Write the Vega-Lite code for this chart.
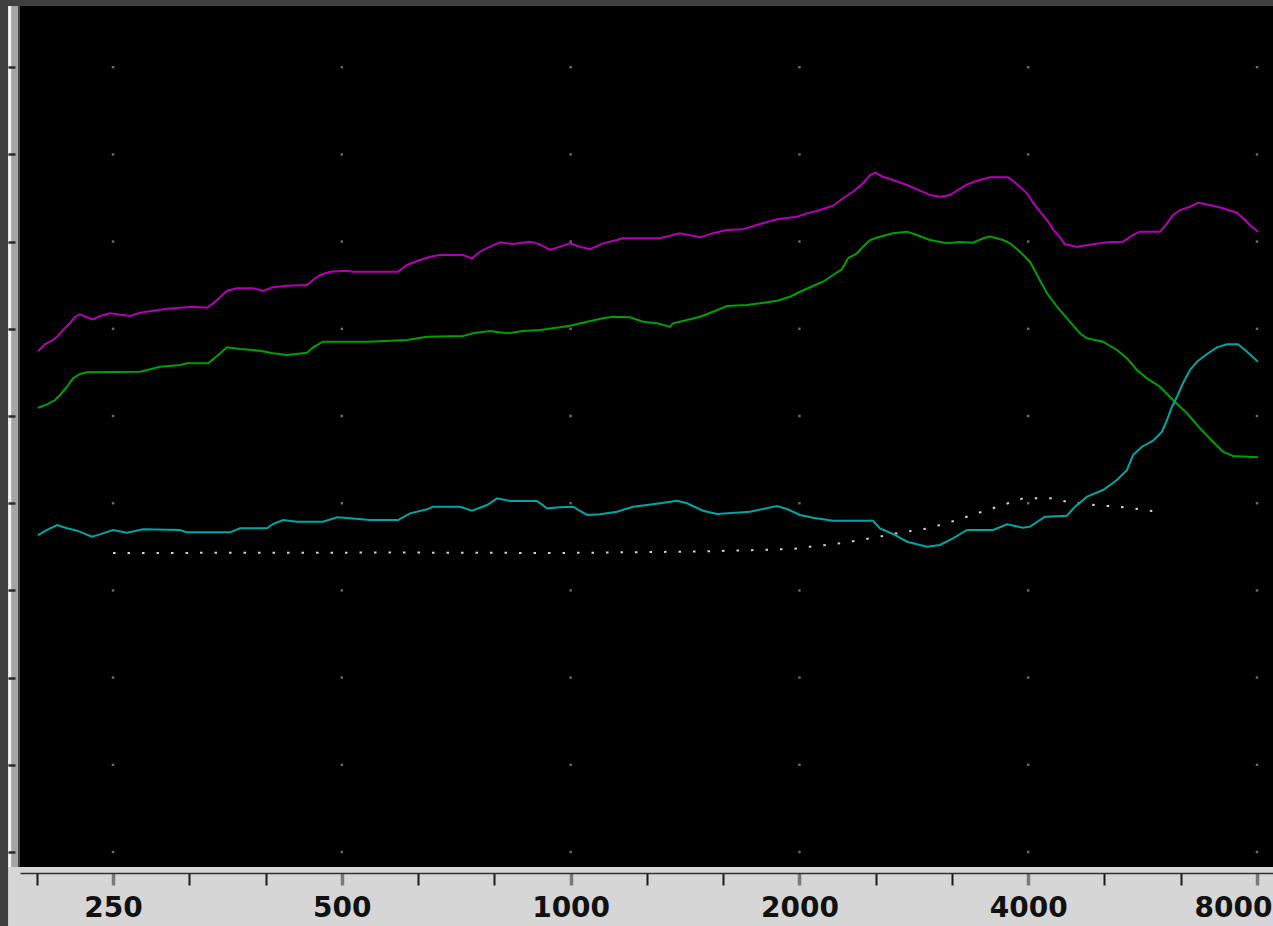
{
"$schema": "https://vega.github.io/schema/vega-lite/v6.json",
"width": 1253, "height": 861,
"autosize": {"type": "none"},
"padding": {"left": 20, "top": 6, "right": 0, "bottom": 59},
"background": "#404040",
"config": {"view": {"fill": "#000000", "stroke": null}},
"datasets": {
"grid": [
{"freq":250,"level":0},{"freq":500,"level":0},{"freq":1000,"level":0},{"freq":2000,"level":0},{"freq":4000,"level":0},{"freq":8000,"level":0},
{"freq":250,"level":10},{"freq":500,"level":10},{"freq":1000,"level":10},{"freq":2000,"level":10},{"freq":4000,"level":10},{"freq":8000,"level":10},
{"freq":250,"level":20},{"freq":500,"level":20},{"freq":1000,"level":20},{"freq":2000,"level":20},{"freq":4000,"level":20},{"freq":8000,"level":20},
{"freq":250,"level":30},{"freq":500,"level":30},{"freq":1000,"level":30},{"freq":2000,"level":30},{"freq":4000,"level":30},{"freq":8000,"level":30},
{"freq":250,"level":40},{"freq":500,"level":40},{"freq":1000,"level":40},{"freq":2000,"level":40},{"freq":4000,"level":40},{"freq":8000,"level":40},
{"freq":250,"level":50},{"freq":500,"level":50},{"freq":1000,"level":50},{"freq":2000,"level":50},{"freq":4000,"level":50},{"freq":8000,"level":50},
{"freq":250,"level":60},{"freq":500,"level":60},{"freq":1000,"level":60},{"freq":2000,"level":60},{"freq":4000,"level":60},{"freq":8000,"level":60},
{"freq":250,"level":70},{"freq":500,"level":70},{"freq":1000,"level":70},{"freq":2000,"level":70},{"freq":4000,"level":70},{"freq":8000,"level":70},
{"freq":250,"level":80},{"freq":500,"level":80},{"freq":1000,"level":80},{"freq":2000,"level":80},{"freq":4000,"level":80},{"freq":8000,"level":80},
{"freq":250,"level":90},{"freq":500,"level":90},{"freq":1000,"level":90},{"freq":2000,"level":90},{"freq":4000,"level":90},{"freq":8000,"level":90}
],
"curves": [
{"series":"upper","freq":199.2,"level":57.45},{"series":"upper","freq":203.5,"level":58.26},{"series":"upper","freq":207.8,"level":58.64},{"series":"upper","freq":211.6,"level":59.21},{"series":"upper","freq":214.9,"level":59.86},{"series":"upper","freq":219.5,"level":60.67},{"series":"upper","freq":222.8,"level":61.39},{"series":"upper","freq":226.2,"level":61.66},{"series":"upper","freq":231.1,"level":61.32},{"series":"upper","freq":235.3,"level":61.09},{"series":"upper","freq":240.3,"level":61.47},{"series":"upper","freq":247.7,"level":61.78},{"series":"upper","freq":263.2,"level":61.47},{"series":"upper","freq":271.3,"level":61.85},{"series":"upper","freq":282.2,"level":62.08},{"series":"upper","freq":294.4,"level":62.31},{"series":"upper","freq":306.3,"level":62.42},{"series":"upper","freq":318.6,"level":62.53},{"series":"upper","freq":332.4,"level":62.42},{"series":"upper","freq":338.5,"level":62.92},{"series":"upper","freq":345.7,"level":63.61},{"series":"upper","freq":353.1,"level":64.37},{"series":"upper","freq":364.0,"level":64.64},{"series":"upper","freq":382.1,"level":64.64},{"series":"upper","freq":393.8,"level":64.37},{"series":"upper","freq":405.9,"level":64.76},{"series":"upper","freq":423.5,"level":64.94},{"series":"upper","freq":450.0,"level":65.02},{"series":"upper","freq":458.2,"level":65.60},{"series":"upper","freq":468.1,"level":66.17},{"series":"upper","freq":482.5,"level":66.55},{"series":"upper","freq":508.0,"level":66.66},{"series":"upper","freq":517.3,"level":66.55},{"series":"upper","freq":549.6,"level":66.55},{"series":"upper","freq":592.8,"level":66.55},{"series":"upper","freq":609.2,"level":67.32},{"series":"upper","freq":627.9,"level":67.78},{"series":"upper","freq":653.2,"level":68.27},{"series":"upper","freq":673.2,"level":68.46},{"series":"upper","freq":721.8,"level":68.46},{"series":"upper","freq":741.8,"level":68.08},{"series":"upper","freq":760.0,"level":68.84},{"series":"upper","freq":783.3,"level":69.42},{"series":"upper","freq":807.4,"level":69.92},{"series":"upper","freq":839.9,"level":69.72},{"series":"upper","freq":884.3,"level":69.99},{"series":"upper","freq":911.5,"level":69.69},{"series":"upper","freq":939.5,"level":69.04},{"series":"upper","freq":968.4,"level":69.42},{"series":"upper","freq":998.2,"level":69.80},{"series":"upper","freq":1028.9,"level":69.42},{"series":"upper","freq":1060.5,"level":69.12},{"series":"upper","freq":1103.1,"level":69.80},{"series":"upper","freq":1150.9,"level":70.18},{"series":"upper","freq":1172.0,"level":70.38},{"series":"upper","freq":1311.1,"level":70.38},{"series":"upper","freq":1392.9,"level":70.95},{"series":"upper","freq":1480.0,"level":70.49},{"series":"upper","freq":1539.4,"level":70.95},{"series":"upper","freq":1606.1,"level":71.33},{"series":"upper","freq":1685.9,"level":71.41},{"series":"upper","freq":1775.0,"level":72.02},{"series":"upper","freq":1868.8,"level":72.56},{"series":"upper","freq":1985.5,"level":72.86},{"series":"upper","freq":2046.6,"level":73.24},{"series":"upper","freq":2128.8,"level":73.62},{"series":"upper","freq":2214.3,"level":74.12},{"series":"upper","freq":2282.5,"level":74.97},{"series":"upper","freq":2352.6,"level":75.72},{"series":"upper","freq":2425.0,"level":76.69},{"series":"upper","freq":2477.0,"level":77.64},{"series":"upper","freq":2514.8,"level":77.90},{"series":"upper","freq":2576.4,"level":77.44},{"series":"upper","freq":2655.7,"level":77.06},{"series":"upper","freq":2770.8,"level":76.49},{"series":"upper","freq":2882.2,"level":75.84},{"series":"upper","freq":2970.8,"level":75.34},{"series":"upper","freq":3062.2,"level":75.15},{"series":"upper","freq":3156.3,"level":75.34},{"series":"upper","freq":3224.0,"level":75.84},{"series":"upper","freq":3323.2,"level":76.57},{"series":"upper","freq":3425.4,"level":76.98},{"series":"upper","freq":3563.0,"level":77.37},{"series":"upper","freq":3762.7,"level":77.37},{"series":"upper","freq":3820.0,"level":76.98},{"series":"upper","freq":3901.9,"level":76.30},{"series":"upper","freq":3985.5,"level":75.54},{"series":"upper","freq":4058.6,"level":74.46},{"series":"upper","freq":4145.6,"level":73.43},{"series":"upper","freq":4234.4,"level":72.48},{"series":"upper","freq":4312.0,"level":71.44},{"series":"upper","freq":4404.4,"level":70.49},{"series":"upper","freq":4471.7,"level":69.69},{"series":"upper","freq":4637.3,"level":69.42},{"series":"upper","freq":4867.7,"level":69.69},{"series":"upper","freq":5078.6,"level":69.92},{"series":"upper","freq":5330.8,"level":69.99},{"series":"upper","freq":5494.8,"level":70.76},{"series":"upper","freq":5612.5,"level":71.14},{"series":"upper","freq":5963.0,"level":71.14},{"series":"upper","freq":6090.8,"level":72.10},{"series":"upper","freq":6202.5,"level":73.05},{"series":"upper","freq":6335.4,"level":73.62},{"series":"upper","freq":6530.3,"level":74.00},{"series":"upper","freq":6690.4,"level":74.46},{"series":"upper","freq":6938.2,"level":74.20},{"series":"upper","freq":7216.9,"level":73.82},{"series":"upper","freq":7529.5,"level":73.31},{"series":"upper","freq":7667.7,"level":72.67},{"series":"upper","freq":7832.0,"level":71.90},{"series":"upper","freq":8024.1,"level":71.14},
{"series":"middle","freq":199.2,"level":50.95},{"series":"middle","freq":204.7,"level":51.34},{"series":"middle","freq":209.7,"level":51.83},{"series":"middle","freq":212.9,"level":52.41},{"series":"middle","freq":217.5,"level":53.36},{"series":"middle","freq":221.5,"level":54.32},{"series":"middle","freq":226.2,"level":54.82},{"series":"middle","freq":231.1,"level":55.01},{"series":"middle","freq":271.3,"level":55.08},{"series":"middle","freq":288.3,"level":55.65},{"series":"middle","freq":306.3,"level":55.85},{"series":"middle","freq":312.8,"level":56.04},{"series":"middle","freq":333.4,"level":56.04},{"series":"middle","freq":342.6,"level":56.88},{"series":"middle","freq":353.1,"level":57.88},{"series":"middle","freq":367.3,"level":57.68},{"series":"middle","freq":390.3,"level":57.49},{"series":"middle","freq":405.9,"level":57.19},{"series":"middle","freq":423.5,"level":57.00},{"series":"middle","freq":450.0,"level":57.26},{"series":"middle","freq":458.2,"level":57.88},{"series":"middle","freq":472.3,"level":58.52},{"series":"middle","freq":512.6,"level":58.52},{"series":"middle","freq":541.3,"level":58.52},{"series":"middle","freq":609.2,"level":58.72},{"series":"middle","freq":647.3,"level":59.09},{"series":"middle","freq":721.8,"level":59.17},{"series":"middle","freq":744.0,"level":59.48},{"series":"middle","freq":783.3,"level":59.75},{"series":"middle","freq":824.7,"level":59.48},{"series":"middle","freq":865.7,"level":59.75},{"series":"middle","freq":911.5,"level":59.86},{"series":"middle","freq":948.1,"level":60.06},{"series":"middle","freq":998.2,"level":60.36},{"series":"middle","freq":1050.9,"level":60.81},{"series":"middle","freq":1103.1,"level":61.20},{"series":"middle","freq":1137.1,"level":61.39},{"series":"middle","freq":1197.2,"level":61.32},{"series":"middle","freq":1245.3,"level":60.81},{"series":"middle","freq":1299.2,"level":60.63},{"series":"middle","freq":1351.4,"level":60.24},{"series":"middle","freq":1363.7,"level":60.63},{"series":"middle","freq":1422.8,"level":61.01},{"series":"middle","freq":1480.0,"level":61.39},{"series":"middle","freq":1539.4,"level":61.96},{"series":"middle","freq":1606.1,"level":62.61},{"series":"middle","freq":1706.4,"level":62.73},{"series":"middle","freq":1775.0,"level":62.92},{"series":"middle","freq":1868.8,"level":63.22},{"series":"middle","freq":1943.9,"level":63.68},{"series":"middle","freq":2003.7,"level":64.25},{"series":"middle","freq":2084.2,"level":64.91},{"series":"middle","freq":2148.3,"level":65.40},{"series":"middle","freq":2214.3,"level":66.17},{"series":"middle","freq":2275.6,"level":66.82},{"series":"middle","freq":2317.3,"level":68.08},{"series":"middle","freq":2381.3,"level":68.66},{"series":"middle","freq":2425.0,"level":69.42},{"series":"middle","freq":2477.0,"level":70.18},{"series":"middle","freq":2553.2,"level":70.56},{"series":"middle","freq":2655.7,"level":70.95},{"series":"middle","freq":2770.8,"level":71.14},{"series":"middle","freq":2856.2,"level":70.76},{"series":"middle","freq":2970.8,"level":70.18},{"series":"middle","freq":3127.8,"level":69.80},{"series":"middle","freq":3253.5,"level":69.95},{"series":"middle","freq":3384.3,"level":69.88},{"series":"middle","freq":3488.4,"level":70.38},{"series":"middle","freq":3563.0,"level":70.58},{"series":"middle","freq":3706.3,"level":70.18},{"series":"middle","freq":3785.8,"level":69.80},{"series":"middle","freq":3901.9,"level":68.84},{"series":"middle","freq":4022.3,"level":67.70},{"series":"middle","freq":4120.6,"level":65.97},{"series":"middle","freq":4234.4,"level":64.07},{"series":"middle","freq":4364.6,"level":62.53},{"series":"middle","freq":4498.7,"level":61.20},{"series":"middle","freq":4679.5,"level":59.48},{"series":"middle","freq":4779.8,"level":58.91},{"series":"middle","freq":5017.0,"level":58.52},{"series":"middle","freq":5234.4,"level":57.57},{"series":"middle","freq":5395.5,"level":56.62},{"series":"middle","freq":5561.3,"level":55.28},{"series":"middle","freq":5732.4,"level":54.32},{"series":"middle","freq":5963.0,"level":53.36},{"series":"middle","freq":6202.5,"level":51.83},{"series":"middle","freq":6471.3,"level":50.31},{"series":"middle","freq":6731.2,"level":48.59},{"series":"middle","freq":7001.5,"level":47.05},{"series":"middle","freq":7216.9,"level":45.91},{"series":"middle","freq":7438.8,"level":45.41},{"series":"middle","freq":8024.1,"level":45.26},
{"series":"lower","freq":199.2,"level":36.35},{"series":"lower","freq":204.7,"level":36.93},{"series":"lower","freq":211.0,"level":37.50},{"series":"lower","freq":217.5,"level":37.12},{"series":"lower","freq":224.2,"level":36.85},{"series":"lower","freq":234.6,"level":36.16},{"series":"lower","freq":240.3,"level":36.43},{"series":"lower","freq":250.0,"level":36.93},{"series":"lower","freq":260.8,"level":36.62},{"series":"lower","freq":273.8,"level":37.01},{"series":"lower","freq":306.3,"level":36.93},{"series":"lower","freq":312.8,"level":36.66},{"series":"lower","freq":356.4,"level":36.66},{"series":"lower","freq":367.3,"level":37.12},{"series":"lower","freq":398.6,"level":37.12},{"series":"lower","freq":405.9,"level":37.61},{"series":"lower","freq":418.4,"level":38.07},{"series":"lower","freq":436.6,"level":37.88},{"series":"lower","freq":472.3,"level":37.88},{"series":"lower","freq":492.8,"level":38.38},{"series":"lower","freq":512.6,"level":38.27},{"series":"lower","freq":544.6,"level":38.07},{"series":"lower","freq":592.8,"level":38.07},{"series":"lower","freq":614.8,"level":38.84},{"series":"lower","freq":647.3,"level":39.30},{"series":"lower","freq":659.1,"level":39.60},{"series":"lower","freq":715.3,"level":39.60},{"series":"lower","freq":741.8,"level":39.14},{"series":"lower","freq":776.3,"level":39.79},{"series":"lower","freq":800.2,"level":40.56},{"series":"lower","freq":832.3,"level":40.25},{"series":"lower","freq":903.3,"level":40.25},{"series":"lower","freq":931.0,"level":39.41},{"series":"lower","freq":968.4,"level":39.53},{"series":"lower","freq":1007.3,"level":39.60},{"series":"lower","freq":1050.9,"level":38.65},{"series":"lower","freq":1093.1,"level":38.73},{"series":"lower","freq":1150.9,"level":39.03},{"series":"lower","freq":1208.1,"level":39.60},{"series":"lower","freq":1260.4,"level":39.79},{"series":"lower","freq":1311.1,"level":39.99},{"series":"lower","freq":1380.3,"level":40.29},{"series":"lower","freq":1422.8,"level":39.99},{"series":"lower","freq":1493.5,"level":39.14},{"series":"lower","freq":1558.2,"level":38.76},{"series":"lower","freq":1722.0,"level":39.03},{"series":"lower","freq":1868.8,"level":39.68},{"series":"lower","freq":1926.3,"level":39.33},{"series":"lower","freq":2003.7,"level":38.65},{"series":"lower","freq":2084.2,"level":38.34},{"series":"lower","freq":2214.3,"level":37.99},{"series":"lower","freq":2499.6,"level":37.99},{"series":"lower","freq":2553.2,"level":37.12},{"series":"lower","freq":2655.7,"level":36.47},{"series":"lower","freq":2770.8,"level":35.58},{"series":"lower","freq":2943.9,"level":35.01},{"series":"lower","freq":3062.2,"level":35.21},{"series":"lower","freq":3185.2,"level":35.97},{"series":"lower","freq":3323.2,"level":36.93},{"series":"lower","freq":3595.5,"level":36.93},{"series":"lower","freq":3751.4,"level":37.58},{"series":"lower","freq":3937.8,"level":37.19},{"series":"lower","freq":4022.3,"level":37.31},{"series":"lower","freq":4208.9,"level":38.45},{"series":"lower","freq":4498.7,"level":38.57},{"series":"lower","freq":4609.3,"level":39.60},{"series":"lower","freq":4779.8,"level":40.75},{"series":"lower","freq":5017.0,"level":41.51},{"series":"lower","freq":5234.4,"level":42.66},{"series":"lower","freq":5395.5,"level":43.81},{"series":"lower","freq":5494.8,"level":45.53},{"series":"lower","freq":5646.3,"level":46.48},{"series":"lower","freq":5837.6,"level":47.17},{"series":"lower","freq":5998.9,"level":48.20},{"series":"lower","freq":6090.8,"level":49.54},{"series":"lower","freq":6183.7,"level":51.07},{"series":"lower","freq":6278.0,"level":52.21},{"series":"lower","freq":6393.2,"level":53.75},{"series":"lower","freq":6530.3,"level":55.28},{"series":"lower","freq":6670.3,"level":56.23},{"series":"lower","freq":6875.5,"level":57.11},{"series":"lower","freq":7087.1,"level":57.88},{"series":"lower","freq":7305.1,"level":58.22},{"series":"lower","freq":7552.7,"level":58.22},{"series":"lower","freq":7761.3,"level":57.37},{"series":"lower","freq":8024.1,"level":56.23}
],
"reference": [
{"freq":250,"level":34.29},{"freq":596.4,"level":34.34},{"freq":968.4,"level":34.29},{"freq":1480.0,"level":34.46},{"freq":1961.6,"level":34.75},{"freq":2065.3,"level":35.01},{"freq":2261.8,"level":35.40},{"freq":2477.0,"level":35.97},{"freq":2712.8,"level":36.62},{"freq":2952.8,"level":37.12},{"freq":3224.0,"level":38.07},{"freq":3478.0,"level":39.03},{"freq":3762.7,"level":39.99},{"freq":3937.8,"level":40.56},{"freq":4299.0,"level":40.56},{"freq":4498.7,"level":40.17},{"freq":4897.3,"level":39.79},{"freq":5363.5,"level":39.53},{"freq":5909.2,"level":39.03}
]
},
"encoding": {
"x": {"type": "quantitative", "title": null, "scale": {"type": "log", "domain": [188.6, 8397.5], "nice": false},
"axis": {"orient": "bottom", "offset": 6, "zindex": 1, "title": null, "grid": false,
"values": [198.43, 250, 314.98, 396.85, 500, 629.96, 793.70, 1000, 1259.92, 1587.40, 2000, 2519.84, 3174.80, 4000, 5039.68, 6349.60, 8000],
"domainColor": "#303030", "domainWidth": 1.5,
"tickSize": 12,
"tickColor": {"condition": {"test": "indexof([250,500,1000,2000,4000,8000], datum.value) >= 0", "value": "#7a7a7a"}, "value": "#1a1a1a"},
"tickWidth": {"condition": {"test": "indexof([250,500,1000,2000,4000,8000], datum.value) >= 0", "value": 3.5}, "value": 2},
"labelExpr": "indexof([250,500,1000,2000,4000,8000], datum.value) >= 0 ? format(datum.value, 'd') : ''",
"labelFont": "DejaVu Sans", "labelFontSize": 28, "labelFontWeight": "bold", "labelColor": "#111111",
"labelPadding": 9, "labelOverlap": false, "labelBound": false,
"labelFlush": 20, "labelFlushOffset": 15}},
"y": {"type": "quantitative", "title": null, "scale": {"domain": [-1.72, 97.02], "nice": false, "zero": false},
"axis": {"orient": "left", "offset": 5, "zindex": 1, "title": null, "grid": false, "labels": false, "domain": false,
"values": [0, 10, 20, 30, 40, 50, 60, 70, 80, 90],
"tickColor": "#2a2a2a", "tickWidth": 2.5, "tickSize": 7}}
},
"layer": [
{
"data": {"values": [{}]},
"mark": {"type": "rect", "color": "#d6d6d6"},
"encoding": {
"x": {"datum": 181.9, "type": "quantitative"},
"x2": {"datum": 9000},
"y": {"datum": -1.72, "type": "quantitative"},
"y2": {"datum": -9}
}
},
{
"data": {"values": [{}]},
"mark": {"type": "rect", "color": "#a4a4a4"},
"encoding": {
"x": {"datum": 183.8, "type": "quantitative"},
"x2": {"datum": 187.5},
"y": {"datum": -1.72, "type": "quantitative"},
"y2": {"datum": 97.02}
}
},
{
"data": {"values": [{}]},
"mark": {"type": "rect", "color": "#f2f2f2"},
"encoding": {
"x": {"datum": 181.9, "type": "quantitative"},
"x2": {"datum": 183.8},
"y": {"datum": -1.72, "type": "quantitative"},
"y2": {"datum": 97.02}
}
},
{
"data": {"name": "grid"},
"mark": {"type": "square", "color": "#6a6a6a", "size": 6, "filled": true, "opacity": 1},
"encoding": {
"x": {"field": "freq", "type": "quantitative"},
"y": {"field": "level", "type": "quantitative"}
}
},
{
"data": {"name": "reference"},
"mark": {"type": "line", "color": "#d4d4d4", "strokeWidth": 2, "strokeDash": [2.5, 12]},
"encoding": {
"x": {"field": "freq", "type": "quantitative"},
"y": {"field": "level", "type": "quantitative"}
}
},
{
"data": {"name": "curves"},
"mark": {"type": "line", "strokeWidth": 2},
"encoding": {
"x": {"field": "freq", "type": "quantitative"},
"y": {"field": "level", "type": "quantitative"},
"color": {"field": "series", "type": "nominal", "legend": null,
"scale": {"domain": ["upper", "middle", "lower"], "range": ["#b400b4", "#00a000", "#00a5a5"]}}
}
}
]
}
